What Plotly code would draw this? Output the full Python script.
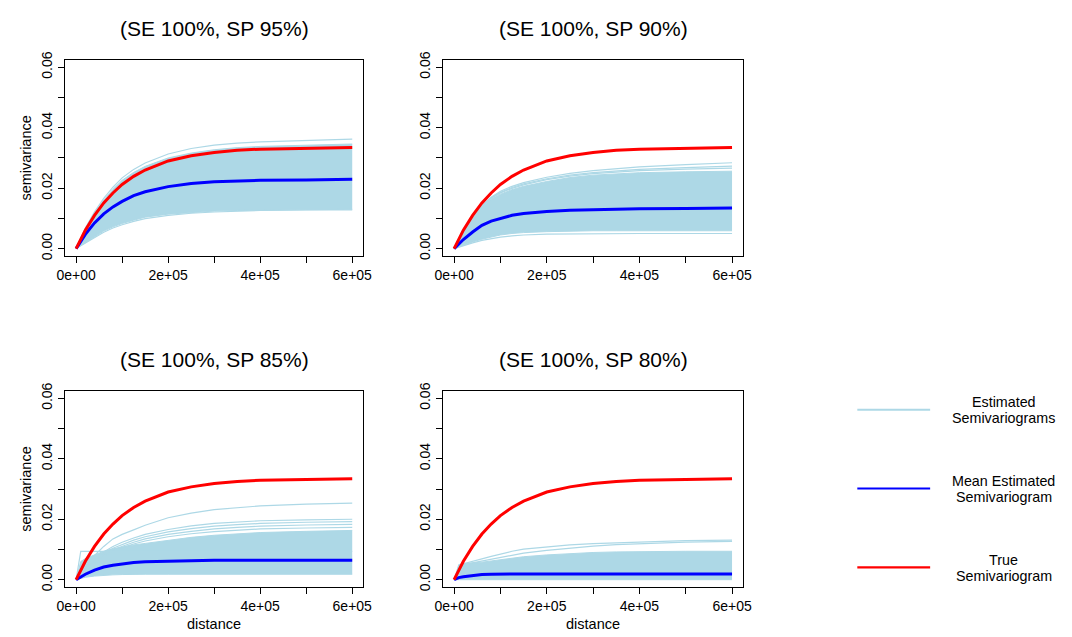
import plotly.graph_objects as go

W, H = 1072, 637

# ---------------- data ----------------
dist = [0, 1e4, 2e4, 4e4, 6e4, 8e4, 1e5, 1.25e5, 1.5e5, 2e5, 2.5e5, 3e5, 3.5e5, 4e5, 5e5, 6e5]

true_sv = [0, 0.0032, 0.0061, 0.0110, 0.0151, 0.0184, 0.0212, 0.0239, 0.0260, 0.0290,
           0.0307, 0.0318, 0.0325, 0.0329, 0.0332, 0.0334]

titles = ["(SE 100%, SP 95%)", "(SE 100%, SP 90%)", "(SE 100%, SP 85%)", "(SE 100%, SP 80%)"]

# SP 95%
mean1 = [0, 0.0025, 0.0047, 0.0085, 0.0115, 0.0138, 0.0156, 0.0175, 0.0188, 0.0205,
         0.0215, 0.0221, 0.0224, 0.0226, 0.0227, 0.0229]
lo1 = [0, 0.0010, 0.0020, 0.0040, 0.0058, 0.0072, 0.0083, 0.0094, 0.0104, 0.0114,
       0.0120, 0.0124, 0.0126, 0.0127, 0.0129, 0.0130]
hi1 = [0, 0.0035, 0.0066, 0.0118, 0.0160, 0.0196, 0.0226, 0.0252, 0.0272, 0.0300,
       0.0316, 0.0327, 0.0334, 0.0338, 0.0343, 0.0346]
extra1 = [
    [0, 0.0036, 0.0068, 0.0122, 0.0166, 0.0203, 0.0234, 0.0262, 0.0283, 0.0313,
     0.0331, 0.0342, 0.0349, 0.0353, 0.0358, 0.0362],
    [0, 0.0009, 0.0018, 0.0037, 0.0054, 0.0068, 0.0079, 0.0090, 0.0099, 0.0110,
     0.0117, 0.0121, 0.0124, 0.0126, 0.0128, 0.0128],
]

# SP 90%
mean2 = [0, 0.0016, 0.0030, 0.0055, 0.0077, 0.0091, 0.0100, 0.0110, 0.0116, 0.0123,
         0.0127, 0.0129, 0.0130, 0.0132, 0.0133, 0.0134]
lo2 = [0, 0.0006, 0.0012, 0.0022, 0.0031, 0.0039, 0.0045, 0.0050, 0.0053, 0.0056,
       0.0058, 0.0059, 0.0059, 0.0059, 0.0059, 0.0059]
hi2 = [0, 0.0030, 0.0058, 0.0100, 0.0138, 0.0163, 0.0180, 0.0195, 0.0206, 0.0222,
       0.0235, 0.0243, 0.0248, 0.0251, 0.0254, 0.0256]
extra2 = [
    [0, 0.0031, 0.0059, 0.0105, 0.0143, 0.0170, 0.0190, 0.0206, 0.0218, 0.0236,
     0.0249, 0.0258, 0.0265, 0.0270, 0.0278, 0.0284],
    [0, 0.0031, 0.0059, 0.0104, 0.0141, 0.0168, 0.0186, 0.0202, 0.0214, 0.0231,
     0.0243, 0.0251, 0.0257, 0.0262, 0.0268, 0.0273],
    [0, 0.0030, 0.0058, 0.0102, 0.0140, 0.0166, 0.0184, 0.0199, 0.0211, 0.0228,
     0.0240, 0.0248, 0.0254, 0.0258, 0.0263, 0.0266],
    [0, 0.0005, 0.0010, 0.0019, 0.0027, 0.0033, 0.0038, 0.0042, 0.0045, 0.0048,
     0.0049, 0.0050, 0.0050, 0.0050, 0.0050, 0.0050],
]

# SP 85%
mean3 = [0, 0.0010, 0.0018, 0.0032, 0.0042, 0.0048, 0.0053, 0.0057, 0.0059, 0.0062,
         0.0063, 0.0064, 0.0064, 0.0064, 0.0064, 0.0064]
lo3 = [0, 0.0005, 0.0008, 0.0012, 0.0015, 0.0016, 0.0017, 0.0018, 0.0018, 0.0018,
       0.0018, 0.0018, 0.0018, 0.0018, 0.0018, 0.0018]
hi3 = [0, 0.0060, 0.0070, 0.0082, 0.0094, 0.0102, 0.0108, 0.0115, 0.0120, 0.0130,
       0.0140, 0.0147, 0.0152, 0.0156, 0.0160, 0.0163]
extra3 = [
    [0, 0.0022, 0.0042, 0.0080, 0.0110, 0.0135, 0.0150, 0.0165, 0.0180, 0.0205,
     0.0220, 0.0232, 0.0239, 0.0244, 0.0250, 0.0253],
    [0, 0.0020, 0.0038, 0.0068, 0.0092, 0.0110, 0.0124, 0.0138, 0.0150, 0.0166,
     0.0178, 0.0186, 0.0191, 0.0195, 0.0198, 0.0200],
    [0, 0.0019, 0.0036, 0.0064, 0.0087, 0.0104, 0.0117, 0.0131, 0.0142, 0.0158,
     0.0169, 0.0177, 0.0182, 0.0186, 0.0190, 0.0192],
    [0, 0.0018, 0.0034, 0.0061, 0.0083, 0.0099, 0.0111, 0.0124, 0.0135, 0.0150,
     0.0160, 0.0168, 0.0173, 0.0177, 0.0181, 0.0183],
    [0, 0.0017, 0.0032, 0.0058, 0.0079, 0.0094, 0.0106, 0.0118, 0.0128, 0.0142,
     0.0152, 0.0159, 0.0164, 0.0168, 0.0171, 0.0173],
    [0, 0.0094, 0.0094, 0.0094, 0.0094, 0.0094, 0.0094, 0.0094, 0.0094, 0.0094,
     0.0094, 0.0094, 0.0094, 0.0094, 0.0094, 0.0094],
]

# SP 80%
mean4 = [0, 0.0007, 0.0010, 0.0014, 0.0017, 0.0018, 0.0019, 0.0019, 0.0019, 0.0019,
         0.0019, 0.0019, 0.0019, 0.0019, 0.0019, 0.0019]
lo4 = [0, 0, 0, 0, 0, 0, 0, 0, 0, 0, 0, 0, 0, 0, 0, 0]
hi4 = [0, 0.0050, 0.0053, 0.0055, 0.0058, 0.0062, 0.0066, 0.0071, 0.0076, 0.0082,
       0.0087, 0.0090, 0.0092, 0.0093, 0.0094, 0.0094]
extra4 = [
    [0, 0.0040, 0.0053, 0.0062, 0.0069, 0.0077, 0.0085, 0.0094, 0.0101, 0.0109,
     0.0115, 0.0119, 0.0122, 0.0125, 0.0129, 0.0131],
    [0, 0.0038, 0.0050, 0.0056, 0.0061, 0.0067, 0.0073, 0.0081, 0.0088, 0.0097,
     0.0105, 0.0111, 0.0116, 0.0119, 0.0124, 0.0127],
]

panels = [
    (mean1, lo1, hi1, extra1),
    (mean2, lo2, hi2, extra2),
    (mean3, lo3, hi3, extra3),
    (mean4, lo4, hi4, extra4),
]

x_tickvals = [0, 1e5, 2e5, 3e5, 4e5, 5e5, 6e5]
x_ticktext = ["0e+00", "", "2e+05", "", "4e+05", "", "6e+05"]
y_tickvals = [0, 0.01, 0.02, 0.03, 0.04, 0.05, 0.06]
y_ticktext = ["0.00", "", "0.02", "", "0.04", "", "0.06"]

legend_labels = [["Estimated", "Semivariograms"],
                 ["Mean Estimated", "Semivariogram"],
                 ["True", "Semivariogram"]]

# ---------------- layout geometry (pixels) ----------------
LIGHT = "#ADD8E6"
FONT = "Liberation Sans, Arial, sans-serif"
boxes = [  # left, right, top, bottom
    (58, 361, 52, 252),
    (442, 747, 52, 252),
    (58, 361, 390, 590),
    (442, 747, 390, 590),
]

def px(x):
    return x / W

def py(y):
    return 1 - y / H

fig = go.Figure()
layout = dict(width=W, height=H, margin=dict(l=0, r=0, t=0, b=0),
              paper_bgcolor="white", plot_bgcolor="white", showlegend=False,
              font=dict(family=FONT, color="black"))
annotations = []
shapes = []

for i, (mean, lo, hi, extras) in enumerate(panels):
    n = i + 1
    xa = "x" if n == 1 else f"x{n}"
    ya = "y" if n == 1 else f"y{n}"
    l, r, t, b = boxes[i]
    fig.add_trace(go.Scatter(x=dist, y=lo, mode="lines", xaxis=xa, yaxis=ya,
                             line=dict(color=LIGHT, width=1), hoverinfo="skip"))
    fig.add_trace(go.Scatter(x=dist, y=hi, mode="lines", xaxis=xa, yaxis=ya,
                             fill="tonexty", fillcolor=LIGHT,
                             line=dict(color=LIGHT, width=1), hoverinfo="skip"))
    for e in extras:
        fig.add_trace(go.Scatter(x=dist, y=e, mode="lines", xaxis=xa, yaxis=ya,
                                 line=dict(color=LIGHT, width=1.2), hoverinfo="skip"))
    fig.add_trace(go.Scatter(x=dist, y=mean, mode="lines", xaxis=xa, yaxis=ya,
                             line=dict(color="#0000FF", width=3)))
    fig.add_trace(go.Scatter(x=dist, y=true_sv, mode="lines", xaxis=xa, yaxis=ya,
                             line=dict(color="#FF0000", width=3)))

    axis_common = dict(showline=True, mirror=True, linecolor="black", linewidth=1,
                       ticks="outside", ticklen=6, tickcolor="black", tickwidth=1,
                       showgrid=False, zeroline=False,
                       tickfont=dict(family=FONT, size=14, color="black"))
    layout["xaxis" if n == 1 else f"xaxis{n}"] = dict(
        axis_common, domain=[px(l), px(r)], anchor=ya, range=[-24000, 624000],
        tickvals=x_tickvals, ticktext=x_ticktext, tickangle=0)
    layout["yaxis" if n == 1 else f"yaxis{n}"] = dict(
        axis_common, domain=[py(b), py(t)], anchor=xa, range=[-0.0024, 0.0624],
        tickvals=y_tickvals, ticktext=y_ticktext, tickangle=-90)

    annotations.append(dict(text=titles[i], x=px((l + r) / 2), y=py(t - 32),
                            xref="paper", yref="paper", showarrow=False,
                            xanchor="center", yanchor="middle",
                            font=dict(family=FONT, size=21, color="black")))
    if n in (1, 3):
        annotations.append(dict(text="semivariance", x=px(18), y=py((t + b) / 2),
                                xref="paper", yref="paper", showarrow=False,
                                textangle=-90, xanchor="center", yanchor="middle",
                                font=dict(family=FONT, size=14.5, color="black")))
    if n in (3, 4):
        annotations.append(dict(text="distance", x=px((l + r) / 2), y=py(628),
                                xref="paper", yref="paper", showarrow=False,
                                xanchor="center", yanchor="middle",
                                font=dict(family=FONT, size=14.5, color="black")))

# legend (drawn manually as in the R figure)
leg_colors = [LIGHT, "#0000FF", "#FF0000"]
leg_widths = [2, 2.2, 2.2]
leg_y = [409, 489.5, 570]
for c, w, yy, labels in zip(leg_colors, leg_widths, leg_y, legend_labels):
    shapes.append(dict(type="line", xref="paper", yref="paper",
                       x0=px(863), x1=px(937), y0=py(yy), y1=py(yy),
                       line=dict(color=c, width=w)))
    for k, lab in enumerate(labels):
        annotations.append(dict(text=lab, x=px(1012), y=py(yy - 8 + 16.5 * k),
                                xref="paper", yref="paper", showarrow=False,
                                xanchor="center", yanchor="middle",
                                font=dict(family=FONT, size=14.3, color="black")))

layout["annotations"] = annotations
layout["shapes"] = shapes
fig.update_layout(**layout)
fig.write_html("out.html")
